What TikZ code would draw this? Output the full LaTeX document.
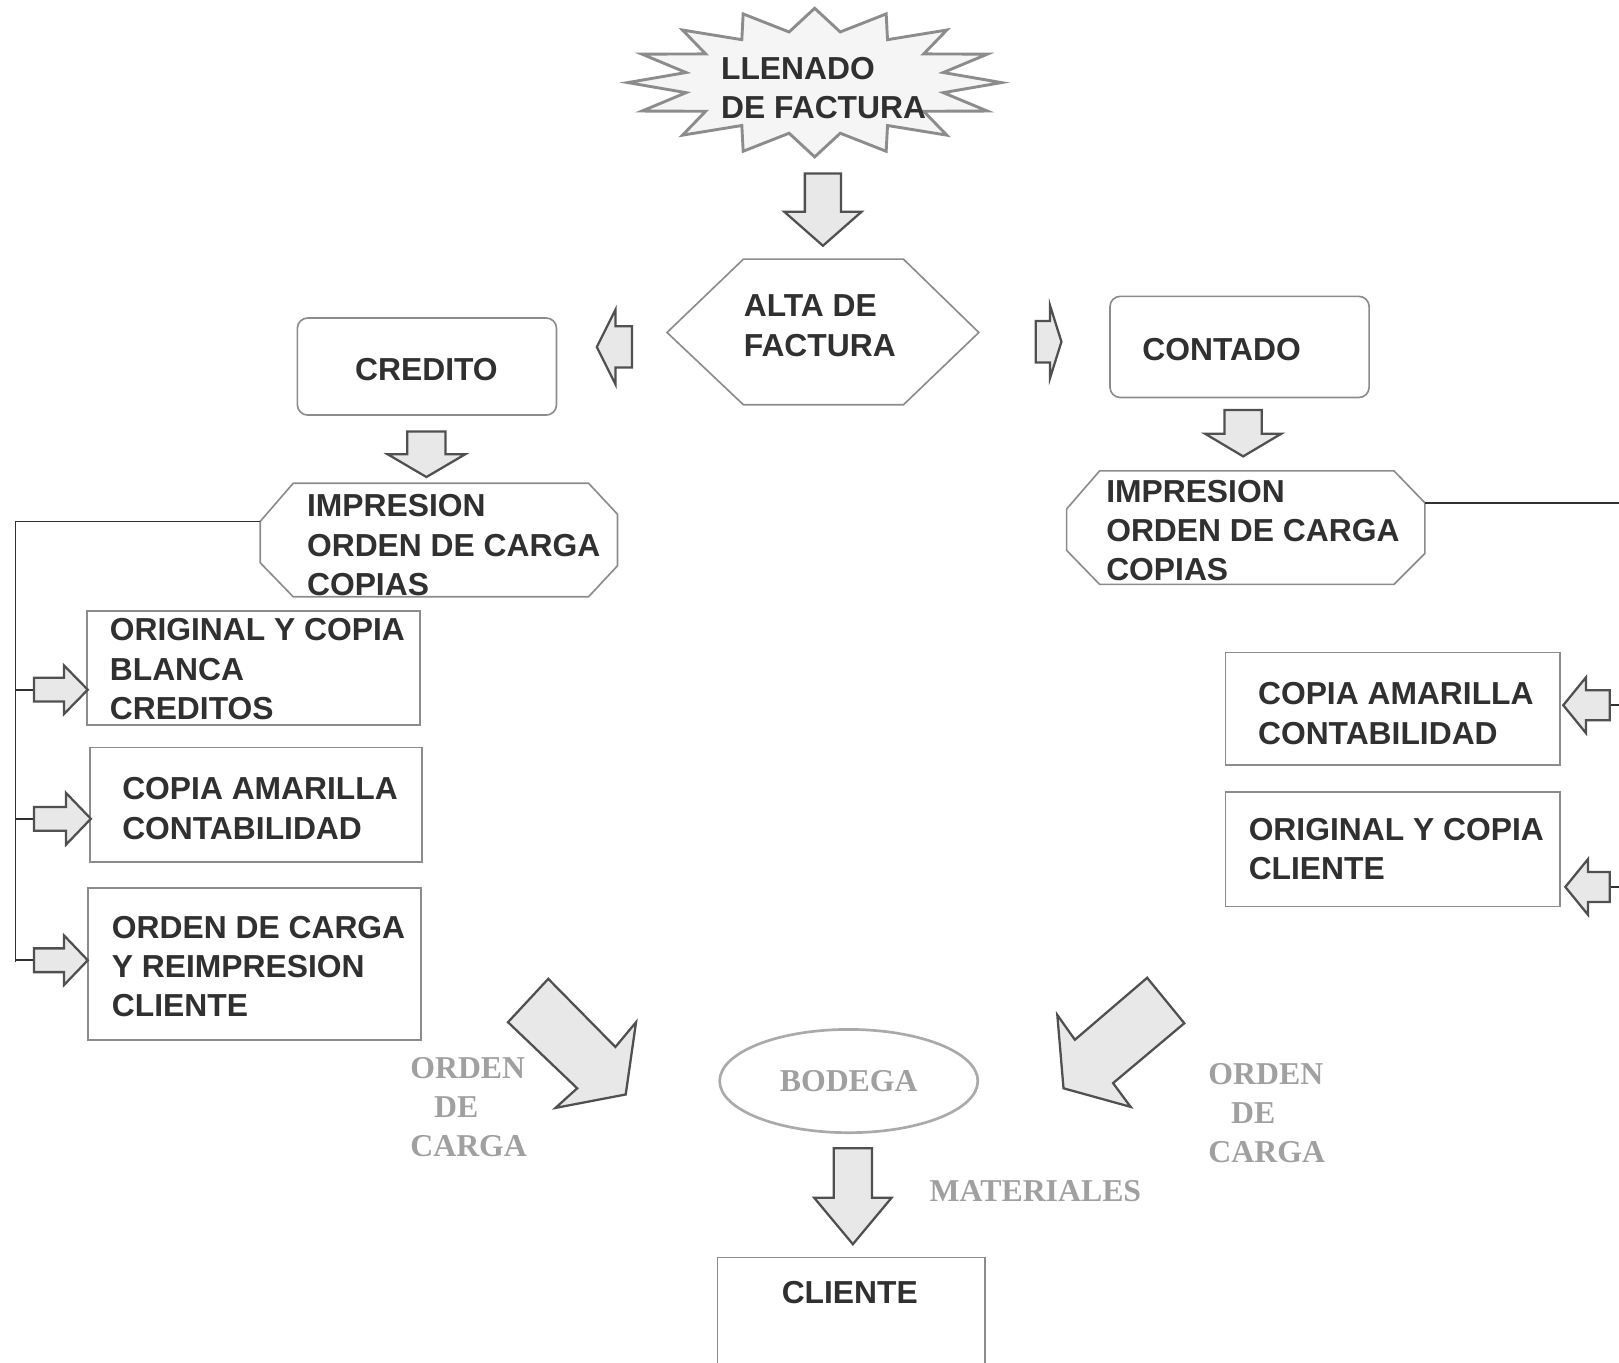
\documentclass[tikz,border=0pt]{standalone}
\usepackage{fontspec}
\setmainfont{Liberation Serif}
\setsansfont{Liberation Sans}
\usetikzlibrary{shapes.geometric}

\definecolor{inkgray}{HTML}{303030}
\definecolor{boxgray}{HTML}{8C8C8C}
\definecolor{lblgray}{HTML}{A0A0A0}
\definecolor{arrowline}{HTML}{505050}
\definecolor{arrowfill}{HTML}{E8E8E8}

% block arrow: tail, angle, length, shaft half width, head half width, head length
\newcommand{\blkarrow}[6]{%
  \draw[blk,shift={(#1)},rotate=#2] (0,-#4) -- (#3-#6,-#4) -- (#3-#6,-#5) -- (#3,0)
    -- (#3-#6,#5) -- (#3-#6,#4) -- (0,#4) -- cycle;}

\begin{document}
\begin{tikzpicture}[x=0.5pt,y=-0.5pt,
    txt/.style={font=\sffamily\bfseries\fontsize{15.4}{19}\selectfont,text=inkgray,align=left,inner sep=0pt},
    lbl/.style={font=\rmfamily\bfseries\fontsize{15.4}{19}\selectfont,text=lblgray,align=left,inner sep=0pt},
    box/.style={draw=boxgray,line width=.8pt},
    blk/.style={draw=arrowline,fill=arrowfill,line width=1.1pt},
    link/.style={draw=inkgray,line width=.8pt}
  ]
  \useasboundingbox (0,0) rectangle (1568,1320);
  \clip (0,0) rectangle (1568,1320);

  % llenado de factura
  \begin{scope}[shift={(789,80)}]
    \draw[boxgray,fill=gray!8,line width=1.4pt] (90:181 and 72)
      \foreach \a in {0,22.5,...,337.5} { -- (\a+101.25:127 and 50) -- (\a+112.5:181 and 72) } -- cycle;
  \end{scope}
  \node[txt,anchor=west] (llenado) at (698,85.5) {LLENADO\\DE FACTURA};
  \blkarrow{797,168}{-90}{70}{17.5}{37.5}{33}

  % alta de factura
  \draw[box] (646,322) -- (720,251) -- (875,251) -- (948,322) -- (875,392) -- (720,392) -- cycle;
  \node[txt,anchor=west] (alta) at (720,315.5) {ALTA DE\\FACTURA};
  \blkarrow{612,336}{180}{34}{20}{36}{18}
  \blkarrow{1003,331}{0}{25}{20}{35}{11}

  \draw[box,rounded corners=5pt] (288,308) rectangle (539,402);
  \node[txt] (credito) at (413,358) {CREDITO};
  \draw[box,rounded corners=5pt] (1075,287) rectangle (1326,385);
  \node[txt,anchor=west] (contado) at (1106,339) {CONTADO};
  \blkarrow{413,418}{-90}{44}{18.5}{37.5}{22}
  \blkarrow{1204,397}{-90}{45}{18}{37}{22}

  % impresion
  \draw[box] (284,468) -- (570,468) -- (598,498) -- (598,548) -- (570,578) -- (284,578) -- (252,545) -- (252,505) -- cycle;
  \node[txt,anchor=west] (impL) at (297,528) {IMPRESION\\ORDEN DE CARGA\\COPIAS};
  \draw[box] (1065,456) -- (1350,456) -- (1380,487) -- (1380,536) -- (1350,566) -- (1065,566) -- (1033,533) -- (1033,493) -- cycle;
  \node[txt,anchor=west] (impR) at (1071,514) {IMPRESION\\ORDEN DE CARGA\\COPIAS};
  \coordinate (impLw) at (252,505);
  \coordinate (impRe) at (1380,487);

  % copias credito
  \draw[box] (84,592) rectangle (407,702);
  \node[txt,anchor=west] (blanca) at (106,648) {ORIGINAL Y COPIA\\BLANCA\\CREDITOS};
  \draw[box] (87,724) rectangle (409,835);
  \node[txt,anchor=west] (amaL) at (118,783) {COPIA AMARILLA\\CONTABILIDAD};
  \draw[box] (85,860) rectangle (408,1007);
  \node[txt,anchor=west] (reimp) at (108,936) {ORDEN DE CARGA\\Y REIMPRESION\\CLIENTE};

  \coordinate (railL) at (15,932);
  \coordinate (tL1) at (33,668);
  \coordinate (tL2) at (33,793);
  \coordinate (tL3) at (33,930);
  \draw[link] (impLw) -| (railL);
  \foreach \t in {tL1,tL2,tL3}
    \draw[link] (\t) -- (\t -| railL);
  \blkarrow{33,668}{0}{52}{11.5}{23.5}{23}
  \blkarrow{33,793}{0}{55}{11.5}{25}{24}
  \blkarrow{33,930}{0}{52}{11.5}{24}{23}

  % copias contado
  \draw[box] (1187,632) rectangle (1511,741);
  \node[txt,anchor=west] (amaR) at (1218,691) {COPIA AMARILLA\\CONTABILIDAD};
  \draw[box] (1187,767) rectangle (1511,878);
  \node[txt,anchor=west] (origR) at (1209,822) {ORIGINAL Y COPIA\\CLIENTE};

  \coordinate (railR) at (1580,487);
  \coordinate (tR1) at (1559,683);
  \coordinate (tR2) at (1559,859);
  \draw[link] (impRe) -- (railR);
  \foreach \t in {tR1,tR2}
    \draw[link] (\t) -- (\t -| railR);
  \blkarrow{1559,683}{180}{45}{14.5}{27}{22}
  \blkarrow{1559,859}{180}{43}{14.5}{27}{22}

  % bodega
  \draw[blk] (492,990) -- (531,948) -- (596,1014) -- (616,990) -- (606,1060) -- (538,1073) -- (559,1054) -- cycle;
  \draw[blk] (1111,947) -- (1147,991) -- (1078,1049) -- (1095,1072) -- (1030,1054) -- (1024,983) -- (1041,1007) -- cycle;
  \node[lbl,anchor=west] (ordenL) at (397,1072) {ORDEN\\\hspace*{11.5pt}DE\\CARGA};
  \node[lbl,anchor=west] (ordenR) at (1170,1078) {ORDEN\\\hspace*{11pt}DE\\CARGA};
  \node[lbl,ellipse,draw=lblgray!90,line width=1.3pt,minimum width=125pt,minimum height=50pt] (bodega) at (822,1047) {BODEGA};

  \blkarrow{826,1112}{-90}{93}{18.5}{37.5}{45}
  \node[lbl,anchor=west] (mat) at (900,1154) {MATERIALES};

  \draw[box] (695,1218) rectangle (954,1340);
  \node[txt] (cliente) at (823,1252) {CLIENTE};
\end{tikzpicture}
\end{document}
